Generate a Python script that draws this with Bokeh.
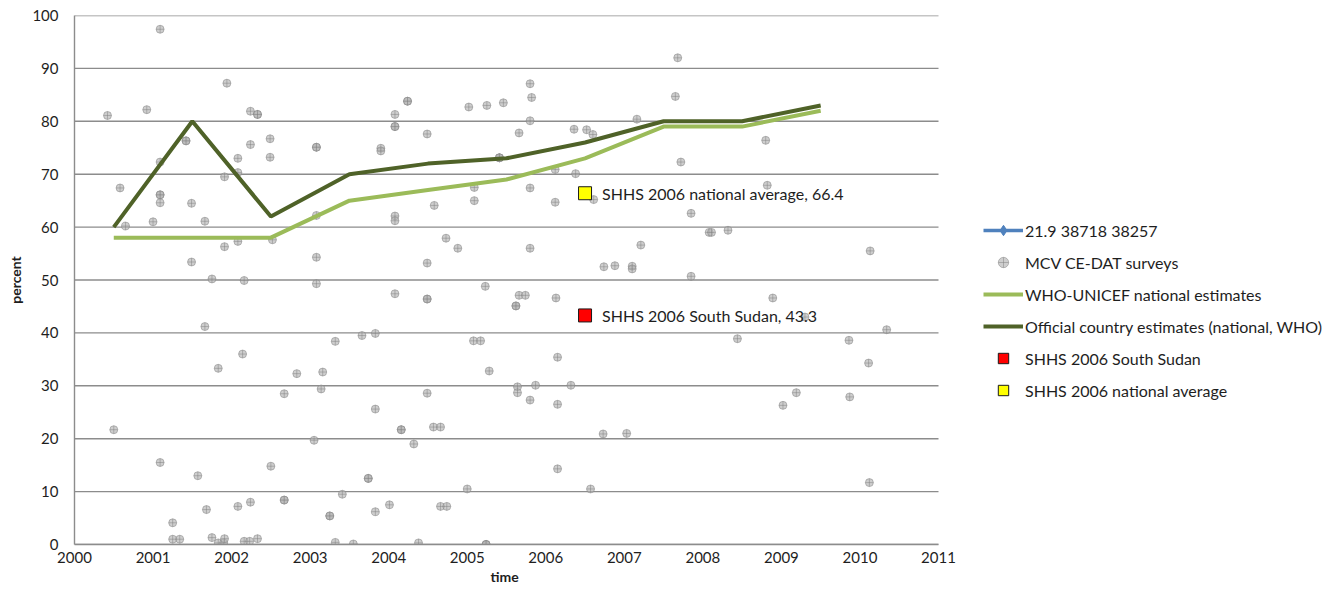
from bokeh.plotting import figure
from bokeh.models import Legend, LegendItem, FixedTicker, Range1d, Title
from bokeh.core.properties import value
from bokeh.embed import file_html
from bokeh.resources import INLINE

# ---- data ----
est_years = [2000.5, 2001.5, 2002.5, 2003.5, 2004.5, 2005.5, 2006.5, 2007.5, 2008.5, 2009.5]
who_unicef = [58, 58, 58, 65, 67, 69, 73, 79, 79, 82]
official = [60, 80, 62, 70, 72, 73, 76, 80, 80, 83]

survey_x = [2000.42, 2000.50, 2000.58, 2000.65, 2000.92, 2001.00, 2001.09, 2001.09, 2001.09, 2001.09,
            2001.09, 2001.09, 2001.25, 2001.25, 2001.34, 2001.42, 2001.42, 2001.49, 2001.49, 2001.57,
            2001.66, 2001.66, 2001.68, 2001.75, 2001.75, 2001.83, 2001.83, 2001.90, 2001.91, 2001.91,
            2001.91, 2001.94, 2002.08, 2002.08, 2002.08, 2002.08, 2002.14, 2002.16, 2002.16, 2002.23,
            2002.24, 2002.24, 2002.24, 2002.33, 2002.33, 2002.33, 2002.49, 2002.49, 2002.50, 2002.52,
            2002.67, 2002.67, 2002.67, 2002.83, 2003.05, 2003.08, 2003.08, 2003.08, 2003.08, 2003.08,
            2003.14, 2003.16, 2003.25, 2003.25, 2003.32, 2003.32, 2003.41, 2003.55, 2003.66, 2003.74,
            2003.74, 2003.83, 2003.83, 2003.83, 2003.90, 2003.90, 2004.01, 2004.08, 2004.08, 2004.08,
            2004.08, 2004.08, 2004.08, 2004.16, 2004.16, 2004.24, 2004.24, 2004.32, 2004.38, 2004.49,
            2004.49, 2004.49, 2004.49, 2004.49, 2004.58, 2004.57, 2004.66, 2004.66, 2004.74, 2004.73,
            2004.88, 2005.00, 2005.02, 2005.08, 2005.17, 2005.09, 2005.09, 2005.23, 2005.24, 2005.24,
            2005.24, 2005.25, 2005.28, 2005.41, 2005.41, 2005.41, 2005.46, 2005.62, 2005.62, 2005.64,
            2005.64, 2005.66, 2005.66, 2005.74, 2005.80, 2005.82, 2005.80, 2005.80, 2005.80, 2005.80,
            2005.87, 2006.12, 2006.12, 2006.13, 2006.15, 2006.15, 2006.15, 2006.32, 2006.36, 2006.38,
            2006.52, 2006.57, 2006.60, 2006.61, 2006.73, 2006.74, 2006.88, 2007.03, 2007.10, 2007.10,
            2007.16, 2007.21, 2007.65, 2007.68, 2007.72, 2007.85, 2007.85, 2008.08, 2008.11, 2008.32,
            2008.44, 2008.80, 2008.82, 2008.89, 2009.02, 2009.19, 2009.30, 2009.86, 2009.87, 2010.11,
            2010.12, 2010.13, 2010.34]
survey_y = [81.1, 21.7, 67.4, 60.2, 82.2, 61.0, 97.4, 72.3, 66.1, 66.1,
            64.6, 15.5, 4.1, 1.0, 1.0, 76.3, 76.3, 64.5, 53.4, 13.0,
            61.1, 41.2, 6.6, 50.2, 1.3, 33.3, 0.3, 0.3, 1.1, 69.5,
            56.3, 87.2, 73.0, 70.3, 57.3, 7.2, 36.0, 49.9, 0.6, 0.6,
            81.9, 75.6, 8.0, 81.3, 81.3, 1.1, 76.7, 73.2, 14.8, 57.6,
            28.5, 8.4, 8.4, 32.3, 19.7, 75.1, 75.1, 62.2, 54.3, 49.3,
            29.4, 32.6, 5.4, 5.4, 38.4, 0.4, 9.5, 0.1, 39.5, 12.5,
            12.5, 39.9, 25.6, 6.2, 74.9, 74.4, 7.5, 81.3, 79.0, 79.0,
            62.1, 61.2, 47.4, 21.7, 21.7, 83.8, 83.8, 19.0, 0.3, 77.6,
            53.2, 46.4, 46.4, 28.6, 64.1, 22.2, 22.2, 7.2, 7.2, 57.9,
            56.0, 10.5, 82.7, 38.5, 38.5, 67.5, 65.0, 48.8, 0.0, 0.0,
            0.0, 83.0, 32.8, 73.1, 73.1, 73.1, 83.5, 45.1, 45.1, 29.8,
            28.7, 77.8, 47.1, 47.1, 87.1, 84.5, 80.1, 67.4, 56.0, 27.3,
            30.1, 70.9, 64.7, 46.6, 35.4, 26.5, 14.3, 30.1, 78.5, 70.1,
            78.4, 10.5, 77.5, 65.2, 20.9, 52.5, 52.7, 21.0, 52.6, 52.1,
            80.4, 56.6, 84.7, 92.0, 72.3, 62.6, 50.7, 59.0, 59.0, 59.4,
            38.9, 76.4, 67.9, 46.6, 26.3, 28.7, 43.0, 38.6, 27.9, 34.3,
            11.7, 55.5, 40.6]

shhs_year = [2006.5]
shhs_south = [43.3]
shhs_national = [66.4]

# series "21.9 38718 38257" has no point inside the plotted range
blue_x = [float("nan")]
blue_y = [float("nan")]

x_ticks = list(range(2000, 2012))
y_ticks = list(range(0, 101, 10))

FONT = "Lato"
TXT = "#1e1e1e"
GRID = "#8C8C8C"

# layout (pixels)
W, H = 1326, 585
LEFT, TOP, BOTTOM = 74, 15, 41
PLOT_W = 864                       # width used by the 2000..2011 axis
x_end = x_ticks[0] + (x_ticks[-1] - x_ticks[0]) * (W - LEFT) / PLOT_W

p = figure(width=W, height=H, x_range=Range1d(x_ticks[0], x_end), y_range=Range1d(y_ticks[0], y_ticks[-1]),
           output_backend="svg", toolbar_location=None,
           min_border_left=LEFT, min_border_right=0, min_border_top=TOP, min_border_bottom=BOTTOM)
p.outline_line_color = None
p.background_fill_color = "white"
p.border_fill_color = "white"
p.xgrid.grid_line_color = None
p.ygrid.grid_line_color = None
p.xaxis.ticker = FixedTicker(ticks=x_ticks)
p.yaxis.ticker = FixedTicker(ticks=y_ticks)
p.xaxis.bounds = (x_ticks[0], x_ticks[-1])
for ax in (p.xaxis, p.yaxis):
    ax.axis_line_color = GRID
    ax.axis_line_width = 1.4
    ax.major_tick_line_color = None
    ax.minor_tick_line_color = None
    ax.major_tick_out = 0
    ax.major_tick_in = 0
    ax.major_label_text_font = FONT
    ax.major_label_text_font_size = "15px"
    ax.major_label_text_color = TXT
    ax.axis_label_text_font = FONT
    ax.axis_label_text_font_size = "14px"
    ax.axis_label_text_font_style = "bold"
    ax.axis_label_text_color = TXT
p.yaxis.axis_label = "percent"
p.xaxis.major_label_standoff = 7
p.yaxis.major_label_standoff = 16
p.yaxis.axis_label_standoff = 5

p.add_layout(Title(text="time", align="left", offset=416, standoff=0, text_font=FONT,
                   text_font_size="14px", text_font_style="bold", text_color=TXT), "below")

# horizontal gridlines limited to the 2000..2011 span
p.segment(x0=x_ticks[0], x1=x_ticks[-1], y0=y_ticks, y1=y_ticks, line_color=GRID, line_width=1.4)

r_blue_l = p.line(blue_x, blue_y, line_color="#4F81BD", line_width=3.5)
r_blue_m = p.scatter(blue_x, blue_y, marker="diamond", size=11, fill_color="#4F81BD", line_color="#4F81BD")

r_surv = p.scatter(survey_x, survey_y, marker="circle_cross", size=8,
                   fill_color="#B4B4B4", fill_alpha=0.65, line_color="#7F7F7F", line_alpha=0.6, line_width=0.8)

r_who = p.line(est_years, who_unicef, line_color="#9BBB59", line_width=4)
r_off = p.line(est_years, official, line_color="#4F6228", line_width=4)

r_red = p.scatter(shhs_year, shhs_south, marker="square", size=13, fill_color="#FF0000", line_color="#1a1a1a", line_width=1)
r_yel = p.scatter(shhs_year, shhs_national, marker="square", size=13, fill_color="#FFFF00", line_color="#1a1a1a", line_width=1)

p.text(shhs_year, shhs_national, text=[f"SHHS 2006 national average, {v}" for v in shhs_national],
       x_offset=17, text_baseline="middle", text_font=value(FONT), text_font_size="16px", text_color=TXT)
p.text(shhs_year, shhs_south, text=[f"SHHS 2006 South Sudan, {v}" for v in shhs_south],
       x_offset=17, text_baseline="middle", text_font=value(FONT), text_font_size="16px", text_color=TXT)

legend = Legend(items=[
    LegendItem(label="21.9 38718 38257", renderers=[r_blue_l, r_blue_m]),
    LegendItem(label="MCV CE-DAT surveys", renderers=[r_surv]),
    LegendItem(label="WHO-UNICEF national estimates", renderers=[r_who]),
    LegendItem(label="Official country estimates (national, WHO)", renderers=[r_off]),
    LegendItem(label="SHHS 2006 South Sudan", renderers=[r_red]),
    LegendItem(label="SHHS 2006 national average", renderers=[r_yel]),
], location=(909, 141))
legend.border_line_color = None
legend.background_fill_alpha = 0
legend.padding = 0
legend.margin = 0
legend.spacing = 6
legend.glyph_width = 40
legend.glyph_height = 26
legend.label_height = 20
legend.label_standoff = 2
legend.label_text_font = FONT
legend.label_text_font_size = "16px"
legend.label_text_color = TXT
p.add_layout(legend, "center")

open("out.html", "w").write(file_html(p, INLINE))
